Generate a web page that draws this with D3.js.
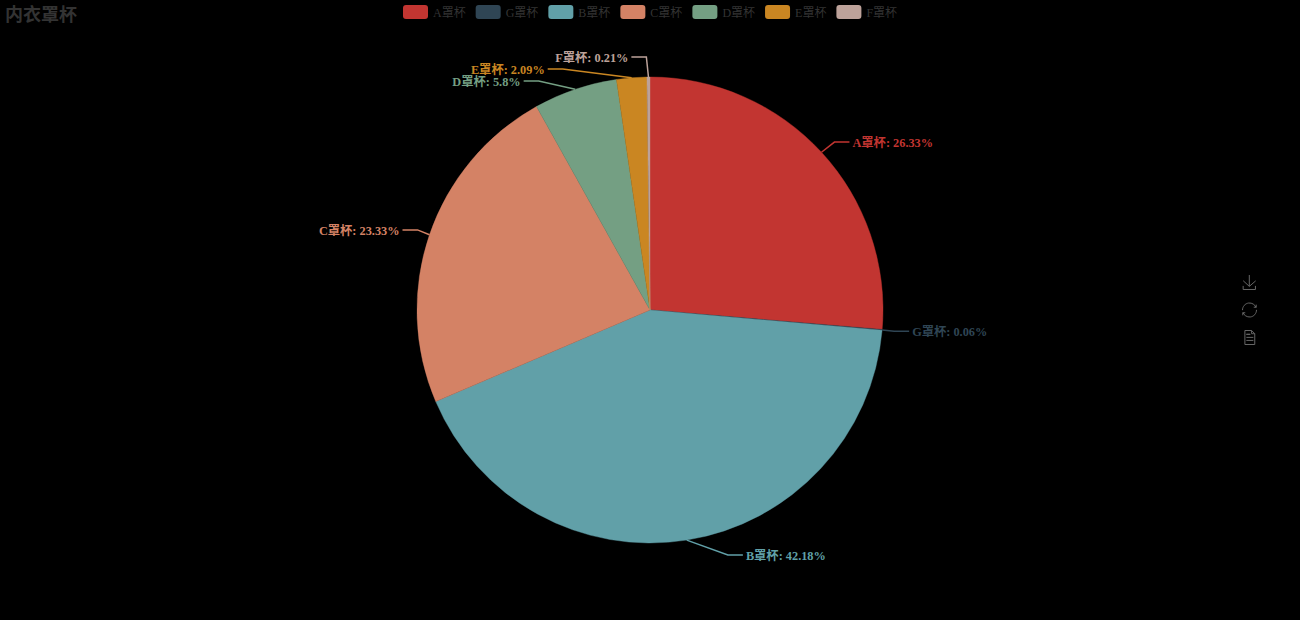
<!DOCTYPE html>
<html>
<head>
<meta charset="utf-8">
<script src="https://cdn.jsdelivr.net/npm/d3@7"></script>
<style>
  html, body { margin: 0; background: #000; }
  svg { display: block; }
  text { font-family: "Liberation Serif", "Noto Sans CJK SC", serif; }
</style>
</head>
<body>
<svg id="chart" width="1300" height="620"></svg>
<script>
'use strict';

const cups = ['A罩杯', 'G罩杯', 'B罩杯', 'C罩杯', 'D罩杯', 'E罩杯', 'F罩杯'];
const shares = [26.33, 0.06, 42.18, 23.33, 5.8, 2.09, 0.21];
const cupColors = ['#c23531', '#2f4554', '#61a0a8', '#d48265', '#749f83', '#ca8622', '#bda29a'];

const width = 1300,
  height = 620,
  cx = width / 2,
  cy = height / 2,
  radius = 233,
  len1 = 15,
  len2 = 15,
  labelGap = 12,
  clusterLift = 5;

const svg = d3.select('#chart');

// title
svg.append('text')
  .attr('x', 5)
  .attr('y', 21)
  .attr('fill', '#333')
  .style('font-size', '18px')
  .style('font-weight', 'bold')
  .text('内衣罩杯');

// pie
const color = d3.scaleOrdinal().domain(cups).range(cupColors);
const rows = cups.map((name, i) => ({name, value: shares[i]}));
const pie = d3.pie().sort(null).value(d => d.value);
const arc = d3.arc().innerRadius(0).outerRadius(radius);
const arcs = pie(rows);

svg.append('g')
  .attr('transform', `translate(${cx},${cy})`)
  .selectAll('path')
  .data(arcs)
  .enter()
  .append('path')
  .attr('d', arc)
  .attr('fill', d => color(d.data.name))
  .attr('stroke', d => color(d.data.name))
  .attr('stroke-width', 0.4);

// label layout, same steps as echarts: natural spot, push apart, refit x
const labels = arcs.map(d => {
  const mid = (d.startAngle + d.endAngle) / 2,
    sin = Math.sin(mid),
    cos = Math.cos(mid),
    dir = sin >= 0 ? 1 : -1;
  return {
    name: d.data.name,
    value: d.data.value,
    dir,
    x0: cx + radius * sin,
    y0: cy - radius * cos,
    x1: cx + (radius + len1) * sin,
    y: cy - (radius + len1) * cos
  };
});

[1, -1].forEach(dir => {
  const side = labels.filter(l => l.dir === dir).sort((a, b) => a.y - b.y);
  // labels crowded at the top get spread, then the group moves back up
  let pushed = 0;
  side.forEach((l, i) => {
    if (i > 0 && l.y - side[i - 1].y < labelGap) {
      l.y = side[i - 1].y + labelGap;
      pushed = i;
    }
  });
  if (pushed) {
    side.slice(0, pushed + 1).forEach(l => { l.y -= clusterLift; });
  }
});

labels.forEach(l => {
  const dy = Math.abs(l.y - cy);
  const dx = dy < radius + len1
    ? Math.sqrt(Math.pow(radius + len1 + len2, 2) - dy * dy)
    : Math.abs(l.x1 + l.dir * (len2 + 5) - cx);
  l.textX = cx + l.dir * dx;
  l.x3 = l.textX - l.dir * 3;
  l.x2 = l.x3 - l.dir * len2;
});

const line = d3.line();

svg.append('g')
  .selectAll('path')
  .data(labels)
  .enter()
  .append('path')
  .attr('d', l => line([[l.x0, l.y0], [l.x2, l.y], [l.x3, l.y]]))
  .attr('fill', 'none')
  .attr('stroke', l => color(l.name))
  .attr('stroke-width', 1.5);

svg.append('g')
  .selectAll('text')
  .data(labels)
  .enter()
  .append('text')
  .attr('x', l => l.textX)
  .attr('y', l => l.y + 0.4)
  .attr('dy', '0.35em')
  .attr('text-anchor', l => l.dir > 0 ? 'start' : 'end')
  .attr('fill', l => color(l.name))
  .style('font-size', '12.3px')
  .style('font-weight', 'bold')
  .text(l => `${l.name}: ${l.value}%`);

// legend
const legend = svg.append('g').attr('transform', 'translate(403,5)');
const legendItems = legend.selectAll('g')
  .data(cups)
  .enter()
  .append('g');

legendItems.append('rect')
  .attr('width', 25)
  .attr('height', 14)
  .attr('rx', 3)
  .attr('fill', d => color(d));

legendItems.append('text')
  .attr('x', 30)
  .attr('y', 8)
  .attr('dy', '0.35em')
  .attr('fill', '#333')
  .style('font-size', '12px')
  .text(d => d);

let legendX = 0;
legendItems.each(function () {
  d3.select(this).attr('transform', `translate(${legendX},0)`);
  legendX += 30 + d3.select(this).select('text').node().getComputedTextLength() + 10;
});

// toolbox icons, drawn on a 60 unit grid
const toolIcons = [
  'M4.7,22.9L29.3,45.5L54.7,23.4M4.6,43.6L4.6,58L53.8,58L53.8,43.6M29.2,45.1L29.2,0',
  'M3.8,33.4 M47,18.9h9.8V8.7 M56.3,20.1 C52.1,9,40.5,0.6,26.8,2.1C12.6,3.7,1.6,16.2,2.1,30.6 M13,41.1H3.1v10.2 M3.7,39.9c4.2,11.1,15.8,19.5,29.5,18 c14.2-1.6,25.2-14.1,24.7-28.5',
  'M17.5,17.3H33 M17.5,17.3H33 M45.4,29.5h-28 M11.5,2v56H51V14.8L38.4,2H11.5z M38.4,2.2v12.7H51 M45.4,41.7h-28'
];

svg.append('g')
  .selectAll('path')
  .data(toolIcons)
  .enter()
  .append('path')
  .attr('d', d => d)
  .attr('transform', (d, i) => `translate(1242,${275 + i * 27.5}) scale(0.25)`)
  .attr('fill', 'none')
  .attr('stroke', '#666')
  .attr('stroke-width', 4);
</script>
</body>
</html>
